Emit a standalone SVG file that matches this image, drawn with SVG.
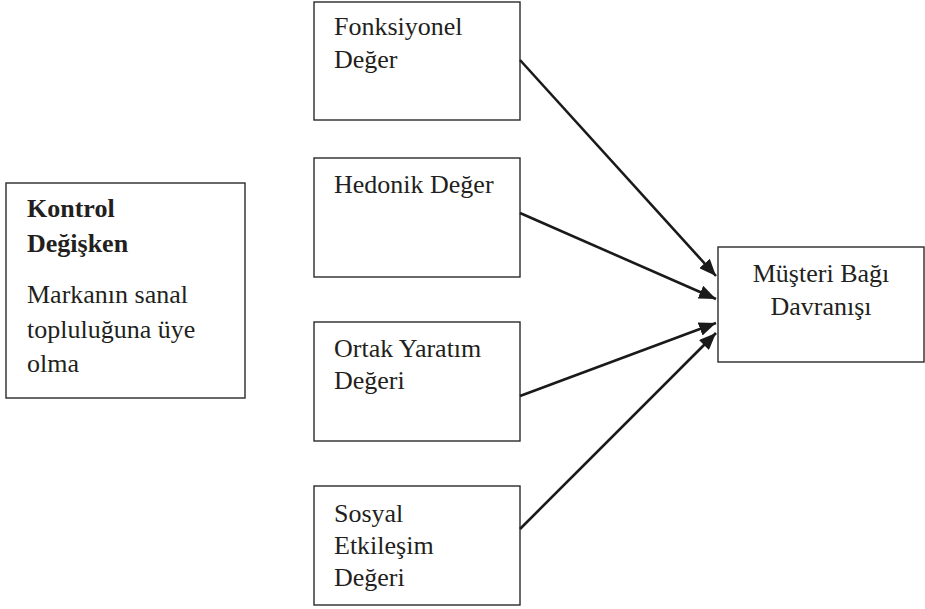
<svg xmlns="http://www.w3.org/2000/svg" width="925" height="609" viewBox="0 0 925 609">
<style>
.box{fill:#fff;stroke:#2a2a2a;stroke-width:1.4}
text{font-family:'Liberation Serif','Tinos','Times New Roman','DejaVu Serif',serif;font-size:26px;fill:#231f20}
.b{font-weight:bold}
.c{stroke:#1a1a1a;stroke-width:2.6;fill:none;marker-end:url(#ah)}
</style>
<defs>
<marker id="ah" markerUnits="userSpaceOnUse" markerWidth="18" markerHeight="14" refX="17" refY="7" orient="auto">
<path d="M0,0 L17,7 L0,14 z" fill="#1a1a1a"/>
</marker>
</defs>
<rect width="925" height="609" fill="#fff"/>
<g id="kontrol" font-family="Liberation Serif, serif">
<rect class="box" x="6" y="183" width="239" height="215"/>
<text class="b" x="27" y="217">Kontrol</text>
<text class="b" x="27" y="252">Değişken</text>
<text x="27" y="303">Markanın sanal</text>
<text x="27" y="338">topluluğuna üye</text>
<text x="27" y="372">olma</text>
</g>
<g id="fonksiyonel">
<rect class="box" x="314" y="2" width="206" height="118"/>
<text x="334" y="35">Fonksiyonel</text>
<text x="334" y="68">Değer</text>
</g>
<g id="hedonik">
<rect class="box" x="314" y="158" width="206" height="119"/>
<text x="334" y="193">Hedonik Değer</text>
</g>
<g id="ortak">
<rect class="box" x="314" y="322" width="206" height="119"/>
<text x="334" y="357">Ortak Yaratım</text>
<text x="334" y="389">Değeri</text>
</g>
<g id="sosyal">
<rect class="box" x="314" y="486" width="206" height="119"/>
<text x="334" y="522">Sosyal</text>
<text x="334" y="554">Etkileşim</text>
<text x="334" y="586">Değeri</text>
</g>
<g id="musteri">
<rect class="box" x="718" y="247" width="206" height="115"/>
<text x="821" y="282" text-anchor="middle">Müşteri Bağı</text>
<text x="821" y="315" text-anchor="middle">Davranışı</text>
</g>
<g id="connectors">
<line class="c" x1="520" y1="60" x2="716" y2="276"/>
<line class="c" x1="520" y1="213" x2="716" y2="299"/>
<line class="c" x1="520" y1="396" x2="716" y2="323"/>
<line class="c" x1="520" y1="529" x2="716" y2="333"/>
</g>
</svg>
